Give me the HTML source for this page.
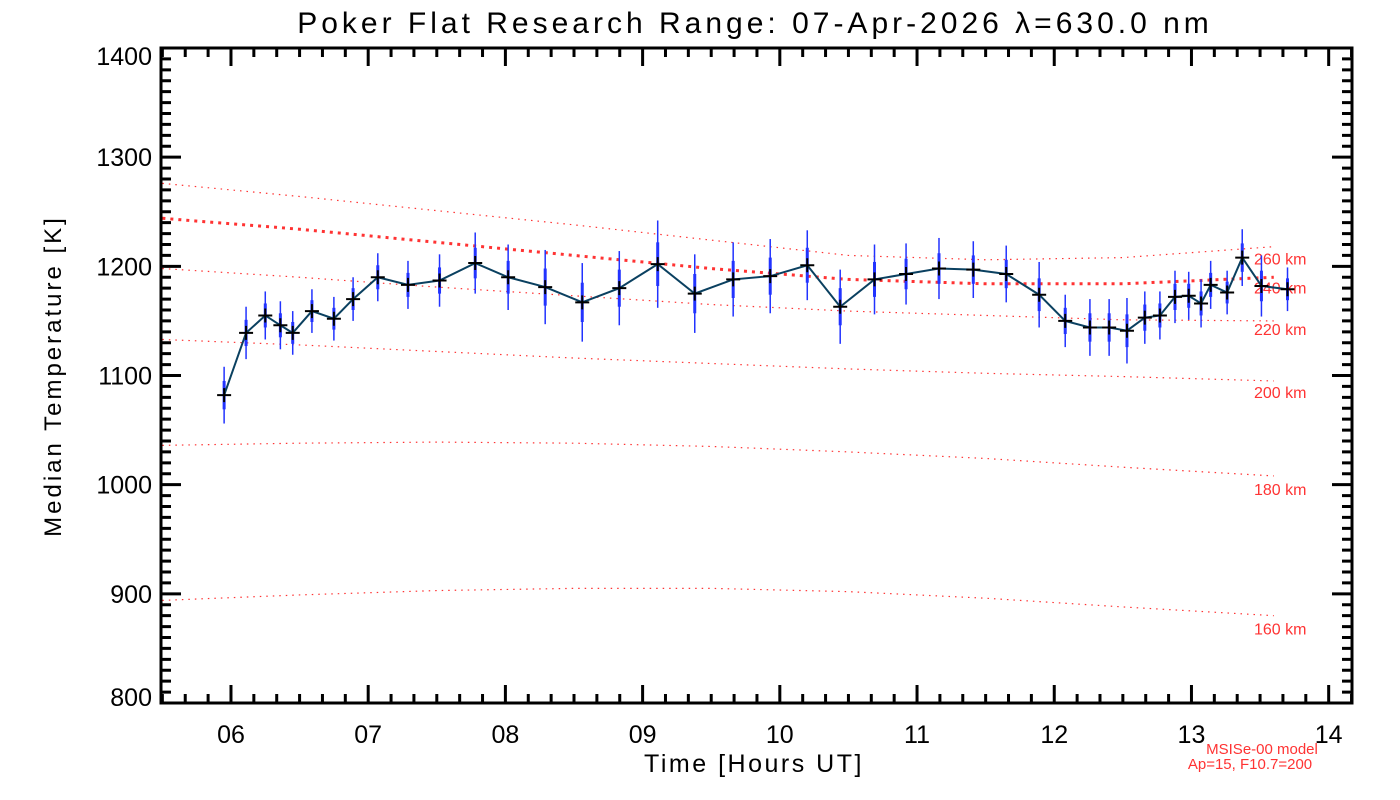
<!DOCTYPE html>
<html><head><meta charset="utf-8"><style>
html,body{margin:0;padding:0;background:#fff;width:1400px;height:800px;overflow:hidden}
svg{display:block;font-family:"Liberation Sans",sans-serif}
</style></head><body>
<svg id="chart" width="1400" height="800">
<text x="755" y="33" text-anchor="middle" font-size="30" letter-spacing="4">Poker Flat Research Range: 07-Apr-2026 λ=630.0 nm</text>
<text transform="translate(61,376) rotate(-90)" text-anchor="middle" font-size="24" letter-spacing="3">Median Temperature [K]</text>
<text x="754" y="772" text-anchor="middle" font-size="25" letter-spacing="2.5">Time [Hours UT]</text>
<text x="1262" y="754" text-anchor="middle" font-size="15" fill="#ff3333">MSISe-00 model</text>
<text x="1250" y="769" text-anchor="middle" font-size="15" fill="#ff3333">Ap=15, F10.7=200</text>
<g id="grid"></g>
<g id="marks"></g>
<rect x="161" y="48" width="1191" height="655" fill="none" stroke="#000" stroke-width="3"/>
</svg>
<script>
const hours=[5.95,6.11,6.25,6.36,6.45,6.59,6.75,6.89,7.07,7.29,7.52,7.78,8.02,8.29,8.56,8.83,9.11,9.38,9.66,9.93,10.20,10.44,10.69,10.92,11.16,11.41,11.65,11.89,12.08,12.26,12.40,12.53,12.66,12.77,12.88,12.98,13.07,13.14,13.26,13.37,13.51,13.70];
const temps=[1082,1139,1155,1146,1139,1159,1152,1170,1190,1183,1187,1203,1190,1181,1167,1180,1202,1175,1188,1191,1201,1163,1188,1193,1198,1197,1193,1174,1150,1144,1144,1141,1153,1155,1172,1173,1166,1183,1176,1208,1182,1179];
const errs=[26,24,22,22,20,20,20,20,22,22,24,28,30,34,36,34,40,36,34,34,32,34,32,28,28,26,26,30,24,26,26,30,24,22,24,22,22,22,20,26,28,20];
const modelHours=[5.5,6.5,7.5,8.5,9.5,10.5,11.5,12.5,13.6];
const alt160=[894,899,903,905,905,902,896,888,880];
const alt180=[1036,1038,1039,1038,1035,1030,1024,1016,1008];
const alt200=[1133,1128,1122,1116,1111,1106,1102,1099,1095];
const alt220=[1198,1190,1181,1173,1165,1159,1155,1151,1150];
const alt240=[1244,1234,1222,1210,1198,1188,1184,1184,1190];
const alt260=[1276,1264,1251,1238,1224,1210,1206,1208,1218];
const altLabels=["160 km","180 km","200 km","220 km","240 km","260 km"];
const xTicks=["06","07","08","09","10","11","12","13","14"];
const yTicks=[800,900,1000,1100,1200,1300,1400];

const X0=161,X1=1352,Y0=703,Y1=48,XMIN=5.49,XMAX=14.17,YMIN=800,YMAX=1400;
const xs=h=>X0+(h-XMIN)/(XMAX-XMIN)*(X1-X0);
const ys=t=>Y0-(t-YMIN)/(YMAX-YMIN)*(Y0-Y1);
const NS="http://www.w3.org/2000/svg";
const grid=document.getElementById('grid'),marks=document.getElementById('marks');
function mk(tag,attrs,parent){const e=document.createElementNS(NS,tag);for(const k in attrs)e.setAttribute(k,attrs[k]);parent.appendChild(e);return e;}

for(let m=Math.ceil(XMIN*6);m<=XMAX*6;m++){
  const h=m/6,x=xs(h),maj=m%6===0,len=maj?18:9;
  const t=mk('path',{d:`M${x},${Y0}v${-len}M${x},${Y1}v${len}`,stroke:'#000','stroke-width':3},grid);
  
  
}
xTicks.forEach(lab=>{
  const t=mk('text',{x:xs(+lab),y:743,'text-anchor':'middle','font-size':25},grid);t.textContent=lab;
  
  
});
for(let v=YMIN;v<=YMAX;v+=10){
  const y=ys(v),maj=v%100===0,len=maj?20:10;
  const t=mk('path',{d:`M${X0},${y}h${len}M${X1},${y}h${-len}`,stroke:'#000','stroke-width':3},grid);
  
  
}
yTicks.forEach(v=>{
  let y=ys(v)+9;
  if(v===YMAX)y+=8;
  if(v===YMIN)y-=6;
  const t=mk('text',{x:152,y:y,'text-anchor':'end','font-size':25},grid);t.textContent=v;
  
  
});

const models=[alt160,alt180,alt200,alt220,alt240,alt260];
models.forEach((arr,i)=>{
  const d=arr.map((v,j)=>(j?'L':'M')+xs(modelHours[j])+','+ys(v)).join('');
  const thick=i===4;
  const p=mk('path',{d,fill:'none',stroke:'#ff3333','stroke-width':thick?3:1.2,'stroke-dasharray':thick?'3 5':'1.5 5'},marks);
  
  
  const last=arr[arr.length-1];
  const off=[19,19,17,14,16,18][i];
  const t=mk('text',{x:1254,y:ys(last)+off,'font-size':16,fill:'#ff3333'},marks);t.textContent=altLabels[i];
  
  
});

hours.forEach((h,i)=>{
  const x=xs(h),e=errs[i];
  const a=mk('line',{x1:x,x2:x,y1:ys(temps[i]+e),y2:ys(temps[i]-e),stroke:'#2233ff','stroke-width':1.5},marks);
  
  
  const b=mk('line',{x1:x,x2:x,y1:ys(temps[i]+e*0.5),y2:ys(temps[i]-e*0.5),stroke:'#2233ff','stroke-width':3},marks);
  
  
});
const line=mk('path',{d:hours.map((h,i)=>(i?'L':'M')+xs(h)+','+ys(temps[i])).join(''),fill:'none',stroke:'#0a4060','stroke-width':2},marks);


hours.forEach((h,i)=>{
  const x=xs(h),y=ys(temps[i]);
  const p=mk('path',{d:`M${x-7},${y}h14M${x},${y-7}v14`,stroke:'#000','stroke-width':2},marks);
  
  
});
</script>
</body></html>
